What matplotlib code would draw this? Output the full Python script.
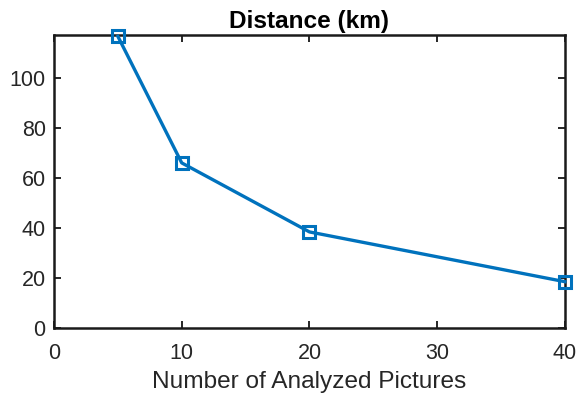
import matplotlib
matplotlib.use('Agg')
import matplotlib.pyplot as plt

# data
n_pictures = [5, 10, 20, 40]
distance_km = [116.5, 65.9, 38.3, 18.4]
x_ticks = [0, 10, 20, 30, 40]
y_ticks = [0, 20, 40, 60, 80, 100]

plt.rcParams['font.family'] = ['Liberation Sans', 'DejaVu Sans']

fig = plt.figure(figsize=(5.77, 3.99), dpi=100)
ax = fig.add_axes([0.0936, 0.1787, 0.979 - 0.0936, 0.912 - 0.1787])

ax.plot(n_pictures, distance_km, color='#0072BD', linewidth=2.4,
        marker='s', markersize=8.5, markerfacecolor='none',
        markeredgewidth=2.2, clip_on=False, zorder=5)

ax.set_xlim(0, 40)
ax.set_ylim(0, 117)
ax.set_xticks(x_ticks)
ax.set_yticks(y_ticks)
ax.tick_params(direction='in', top=True, right=True, length=5, width=1.4,
               labelsize=15.5, colors='#262626')
ax.tick_params(axis='x', pad=11)
ax.tick_params(axis='y', pad=6)
for s in ax.spines.values():
    s.set_linewidth(1.8)
    s.set_color('#1a1a1a')

ax.set_xlabel('Number of Analyzed Pictures', fontsize=17.6, color='#262626', labelpad=5)
ax.set_title('Distance (km)', fontsize=17.6, fontweight='bold', color='black', pad=5)

fig.savefig('out.png', dpi=100)
